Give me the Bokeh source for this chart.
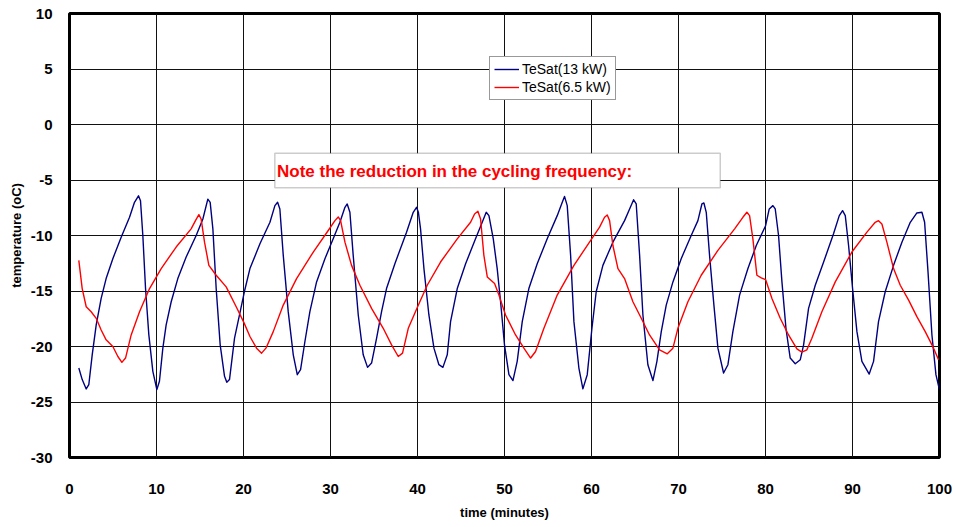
from bokeh.plotting import figure
from bokeh.models import (ColumnDataSource, Legend, LegendItem, BoxAnnotation,
                          Label, FixedTicker, Range1d)
from bokeh.embed import file_html
from bokeh.resources import INLINE

# Saturation temperature traces (time in minutes, temperature in oC)
t_13kw = [1.07, 1.46, 1.92, 2.22, 2.61, 3.07, 3.64, 4.21, 4.98, 5.94, 6.9, 7.47, 7.93, 8.16,
          8.43, 8.74, 9.12, 9.58, 10.04, 10.34, 10.73, 11.11, 11.69, 12.45, 13.41, 14.56,
          15.33, 15.9, 16.17, 16.48, 16.86, 17.32, 17.82, 18.08, 18.39, 18.97, 19.54,
          20.1, 20.74, 21.89, 23.04, 23.61, 23.92, 24.18, 24.57, 25.14, 25.72, 26.18,
          26.56, 27.06, 27.63, 28.4, 29.36, 30.31, 31.08, 31.66, 31.92, 32.23, 32.61,
          33.19, 33.76, 34.26, 34.72, 35.3, 35.87, 36.44, 37.4, 38.74, 39.51, 39.89,
          40.1, 40.35, 40.74, 41.31, 41.89, 42.46, 42.92, 43.42, 43.8, 44.57, 45.53,
          46.67, 47.44, 47.9, 48.21, 48.71, 49.16, 49.55, 50.0, 50.51, 50.97, 51.46,
          52.04, 52.8, 53.76, 54.91, 56.06, 56.64, 56.9, 57.21, 57.6, 57.98, 58.55,
          59.01, 59.51, 60.05, 60.54, 61.31, 62.46, 63.8, 64.38, 64.84, 65.14, 65.53,
          65.91, 66.48, 67.06, 67.52, 68.02, 68.59, 69.36, 70.31, 71.46, 72.23, 72.69,
          72.92, 73.19, 73.57, 74.07, 74.53, 75.18, 75.68, 76.25, 77.02, 77.98, 78.94,
          80.0, 80.43, 80.85, 81.12, 81.5, 81.89, 82.35, 82.84, 83.42, 84.0, 84.38,
          84.95, 85.72, 86.68, 87.82, 88.48, 88.86, 89.17, 89.55, 90.01, 90.51, 91.08,
          91.92, 92.42, 92.99, 93.76, 94.72, 95.68, 96.64, 97.4, 97.98, 98.29, 98.68,
          99.13, 99.59, 99.97]
temp_13kw = [-21.94, -22.98, -23.82, -23.43, -20.75, -18.06, -15.67, -13.88, -12.09, -10.15, -8.36, -7.01, -6.42, -6.86,
             -10.0, -14.78, -18.95, -22.24, -23.88, -23.13, -20.15, -18.06, -15.97, -13.88, -11.94, -10.0,
             -8.51, -6.72, -7.01, -9.4, -14.78, -19.85, -22.69, -23.22, -22.98, -19.25, -17.16,
             -15.07, -12.98, -10.75, -8.81, -7.31, -7.01, -7.61, -11.79, -16.86, -20.75, -22.54,
             -22.09, -19.55, -16.86, -14.18, -12.09, -10.3, -8.81, -7.46, -7.16, -7.91, -11.79,
             -17.16, -20.75, -21.88, -21.49, -19.25, -16.86, -14.78, -12.54, -9.7, -7.91, -7.46,
             -7.9, -9.4, -12.98, -17.16, -20.15, -21.64, -21.88, -20.75, -17.76, -14.78, -12.54,
             -10.3, -8.81, -7.91, -8.21, -10.3, -12.98, -15.97, -19.85, -22.54, -23.07, -21.34,
             -17.76, -14.78, -12.54, -10.3, -8.21, -7.01, -6.48, -7.31, -11.79, -17.76, -21.94,
             -23.82, -22.54, -18.36, -15.07, -12.69, -10.6, -8.66, -7.61, -6.78, -7.16, -11.79,
             -17.16, -21.64, -23.07, -21.34, -18.66, -16.27, -14.18, -12.09, -10.0, -8.66, -7.16,
             -7.07, -7.91, -11.79, -16.27, -20.15, -22.39, -21.64, -18.66, -15.37, -12.98, -10.9,
             -9.15, -7.61, -7.31, -7.61, -10.0, -14.18, -18.36, -21.04, -21.55, -21.19, -19.85,
             -16.57, -14.48, -12.39, -9.85, -8.21, -7.76, -8.21, -10.9, -14.78, -18.66, -21.34,
             -22.48, -21.34, -17.76, -15.07, -12.69, -10.6, -8.81, -7.97, -7.91, -8.81, -13.28,
             -18.96, -22.54, -23.82]

t_6kw = [1.07, 1.46, 1.92, 2.49, 3.07, 3.64, 4.21, 4.98, 5.56, 6.02, 6.44, 7.09, 8.05, 9.2,
         10.54, 12.26, 13.98, 14.48, 14.87, 15.13, 15.52, 16.02, 16.86, 18.01, 19.16, 20.05,
         20.74, 21.5, 22.08, 22.58, 23.42, 24.57, 26.1, 28.02, 29.74, 30.51, 30.89, 31.16,
         31.66, 32.42, 33.38, 34.72, 36.06, 37.02, 37.79, 38.28, 38.94, 40.05, 41.12, 42.65,
         44.57, 46.1, 46.56, 46.94, 47.25, 47.63, 48.02, 48.86, 49.36, 50.12, 51.27, 52.23,
         53.0, 53.57, 54.53, 56.06, 57.98, 60.02, 60.93, 61.5, 61.81, 62.08, 62.46, 63.04,
         63.8, 64.76, 65.72, 66.67, 67.82, 68.71, 69.36, 69.93, 71.08, 72.61, 74.53, 76.45,
         77.4, 77.86, 78.17, 78.55, 79.01, 79.51, 80.02, 80.74, 81.69, 82.65, 83.61, 84.18,
         84.76, 85.33, 86.48, 88.02, 89.93, 91.66, 92.61, 92.99, 93.38, 93.95, 94.72, 95.49,
         96.45, 97.4, 98.36, 99.32, 99.89]
temp_6kw = [-12.24, -14.78, -16.42, -16.87, -17.46, -18.51, -19.4, -20.0, -20.9, -21.43, -21.04, -18.96, -16.87, -14.78,
            -12.98, -11.04, -9.4, -8.66, -8.12, -8.51, -10.6, -12.69, -13.58, -14.63, -16.42, -17.85,
            -19.1, -20.15, -20.6, -20.15, -18.66, -16.27, -13.88, -11.49, -9.55, -8.66, -8.33, -8.66,
            -10.6, -12.69, -14.48, -16.57, -18.36, -19.85, -20.9, -20.6, -18.36, -16.35, -14.48, -12.39,
            -10.3, -8.81, -8.06, -7.82, -8.51, -11.79, -13.73, -14.33, -15.37, -17.16, -18.96, -20.15,
            -21.04, -20.45, -18.36, -15.37, -12.69, -10.3, -9.25, -8.36, -8.15, -8.66, -10.9, -12.99,
            -13.88, -15.97, -17.46, -18.96, -20.3, -20.66, -20.15, -18.36, -15.97, -13.58, -11.34, -9.4,
            -8.36, -7.91, -8.21, -10.3, -13.58, -13.82, -13.98, -15.67, -17.46, -18.96, -20.21, -20.51,
            -20.3, -19.25, -16.87, -14.18, -11.49, -9.7, -8.81, -8.66, -8.96, -10.6, -12.98, -14.48,
            -15.82, -17.31, -18.66, -20.15, -21.19]

x_ticks = list(range(0, 101, 10))
y_ticks = list(range(-30, 11, 5))
series_names = ["TeSat(13 kW)", "TeSat(6.5 kW)"]
note_text = "Note the reduction in the cycling frequency:"

FONT = "Liberation Sans"

p = figure(width=956, height=527, output_backend="svg", toolbar_location=None,
           x_range=Range1d(0, 100), y_range=Range1d(-30, 10),
           min_border_left=69, min_border_right=17, min_border_top=13,
           min_border_bottom=70)
p.background_fill_color = "white"
p.border_fill_color = "white"
p.outline_line_color = "black"
p.outline_line_width = 3

# grid
p.xgrid.ticker = FixedTicker(ticks=x_ticks)
p.ygrid.ticker = FixedTicker(ticks=y_ticks)
p.grid.grid_line_color = "#111111"
p.grid.grid_line_width = 1

for ax in (p.xaxis, p.yaxis):
    ax.axis_line_color = None
    ax.major_tick_line_color = None
    ax.minor_tick_line_color = None
    ax.major_label_text_font = FONT
    ax.major_label_text_font_style = "bold"
    ax.major_label_text_font_size = "15px"
    ax.major_label_text_color = "black"
    ax.axis_label_text_font = FONT
    ax.axis_label_text_font_style = "bold"
    ax.axis_label_text_font_size = "13px"
    ax.axis_label_text_color = "black"

p.xaxis.ticker = FixedTicker(ticks=x_ticks)
p.yaxis.ticker = FixedTicker(ticks=y_ticks)
# plain hyphen-minus in the labels
p.xaxis.major_label_overrides = {v: str(v) for v in x_ticks}
p.yaxis.major_label_overrides = {v: str(v) for v in y_ticks}
p.xaxis.major_label_standoff = 20
p.yaxis.major_label_standoff = 11
p.xaxis.axis_label = "time (minutes)"
p.yaxis.axis_label = "temperature (oC)"
p.xaxis.axis_label_standoff = 8
p.yaxis.axis_label_standoff = 4

src_a = ColumnDataSource(dict(t=t_13kw, v=temp_13kw))
src_b = ColumnDataSource(dict(t=t_6kw, v=temp_6kw))
r_a = p.line("t", "v", source=src_a, line_color="#000080", line_width=1.4,
             line_join="round")
r_b = p.line("t", "v", source=src_b, line_color="#ff0000", line_width=1.4,
             line_join="round")

# note box
box = BoxAnnotation(left=23.6, right=74.8, top=-2.6, bottom=-5.7,
                    fill_color="white", fill_alpha=1.0,
                    line_color="#555555", line_width=1.5, level="overlay")
p.add_layout(box)
note = Label(x=23.85, y=-4.25, text=note_text, text_color="#ff0000",
             text_font=FONT, text_font_style="bold", text_font_size="17px",
             text_baseline="middle", level="overlay")
p.add_layout(note)

legend = Legend(items=[LegendItem(label=series_names[0], renderers=[r_a]),
                       LegendItem(label=series_names[1], renderers=[r_b])],
                location=(420, 357), label_text_font=FONT,
                label_text_font_size="14px", label_text_color="black",
                glyph_width=25, glyph_height=16, label_height=16,
                label_standoff=3, padding=4, spacing=2, margin=0,
                border_line_color="#333333", border_line_width=1,
                background_fill_color="white", background_fill_alpha=1.0)
p.add_layout(legend)

open("out.html", "w").write(file_html(p, INLINE))
